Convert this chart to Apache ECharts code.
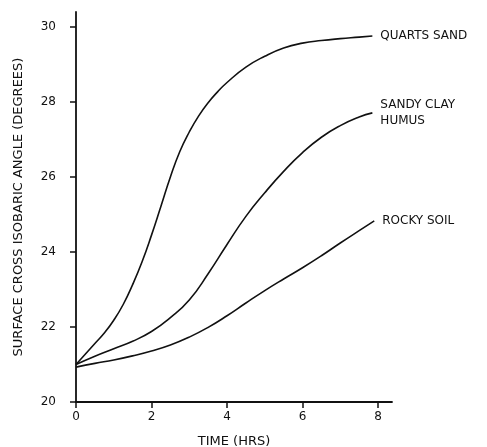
<!DOCTYPE html>
<html>
<head>
<meta charset="utf-8">
<script src="https://cdn.jsdelivr.net/npm/echarts@6/dist/echarts.min.js"></script>
<style>
  html, body { margin: 0; padding: 0; background: #fff; }
  #container { width: 487px; height: 447px; }
</style>
</head>
<body>
<div id="container"></div>
<script>
var dom = document.getElementById('container');
var myChart = echarts.init(dom, null, { renderer: 'canvas' });

// time in hours, angle in degrees
var quartsHours = [0, 0.25, 0.5, 0.75, 1, 1.25, 1.5, 1.75, 2, 2.25, 2.5, 2.75, 3, 3.25, 3.5, 3.75, 4, 4.5, 5, 5.5, 6, 6.5, 7, 7.5, 7.85];
var quartsAngle = [21.0, 21.28, 21.56, 21.84, 22.18, 22.6, 23.13, 23.74, 24.45, 25.22, 26.0, 26.68, 27.2, 27.63, 27.98, 28.27, 28.52, 28.93, 29.22, 29.44, 29.57, 29.64, 29.69, 29.73, 29.76];

var clayHours = [0, 0.5, 1, 1.5, 2, 2.5, 3, 3.5, 4, 4.5, 5, 5.5, 6, 6.5, 7, 7.5, 7.85];
var clayAngle = [21.0, 21.22, 21.42, 21.62, 21.88, 22.25, 22.72, 23.42, 24.2, 24.95, 25.58, 26.15, 26.65, 27.06, 27.37, 27.6, 27.71];

var rockyHours = [0, 0.5, 1, 1.5, 2, 2.5, 3, 3.5, 4, 4.5, 5, 5.5, 6, 6.5, 7, 7.5, 7.9];
var rockyAngle = [20.93, 21.03, 21.12, 21.23, 21.36, 21.52, 21.73, 21.99, 22.3, 22.64, 22.97, 23.28, 23.58, 23.9, 24.24, 24.57, 24.83];

var seriesNames = ['QUARTS SAND', 'SANDY CLAY\nHUMUS', 'ROCKY SOIL'];
var xTicks = [0, 2, 4, 6, 8];
var yTicks = [20, 22, 24, 26, 28, 30];

function pairs(xs, ys) {
  return xs.map(function (x, i) { return [x, ys[i]]; });
}

var ink = '#111';
var font = 'DejaVu Sans';

function lineSeries(name, data) {
  return {
    name: name,
    type: 'line',
    data: data,
    smooth: true,
    showSymbol: false,
    lineStyle: { color: ink, width: 1.6 },
    endLabel: {
      show: true,
      formatter: name,
      distance: 8,
      color: ink,
      fontFamily: font,
      fontSize: 12,
      lineHeight: 16
    }
  };
}

var option = {
  animation: false,
  backgroundColor: '#fff',
  grid: { left: 76, right: 95, top: 12, bottom: 45, outerBoundsMode: 'none' },
  xAxis: {
    type: 'value',
    min: 0,
    max: 8.37,
    name: 'TIME (HRS)',
    nameLocation: 'middle',
    nameGap: 33,
    nameTextStyle: { color: ink, fontFamily: font, fontSize: 13 },
    axisLine: { lineStyle: { color: ink, width: 1.8 } },
    axisTick: { customValues: xTicks, length: 6, lineStyle: { color: ink, width: 1.5 } },
    axisLabel: { customValues: xTicks, margin: 9, color: ink, fontFamily: font, fontSize: 12 },
    splitLine: { show: false }
  },
  yAxis: {
    type: 'value',
    min: 20,
    max: 30.4,
    name: 'SURFACE CROSS ISOBARIC ANGLE (DEGREES)',
    nameLocation: 'middle',
    nameGap: 51,
    nameTextStyle: { color: ink, fontFamily: font, fontSize: 13 },
    axisLine: { show: true, lineStyle: { color: ink, width: 1.8 } },
    axisTick: { show: true, customValues: yTicks, length: 6, lineStyle: { color: ink, width: 1.5 } },
    axisLabel: { customValues: yTicks, margin: 20, color: ink, fontFamily: font, fontSize: 12 },
    splitLine: { show: false }
  },
  series: [
    lineSeries(seriesNames[0], pairs(quartsHours, quartsAngle)),
    lineSeries(seriesNames[1], pairs(clayHours, clayAngle)),
    lineSeries(seriesNames[2], pairs(rockyHours, rockyAngle))
  ]
};

myChart.setOption(option);
window.addEventListener('resize', myChart.resize);
</script>
</body>
</html>
